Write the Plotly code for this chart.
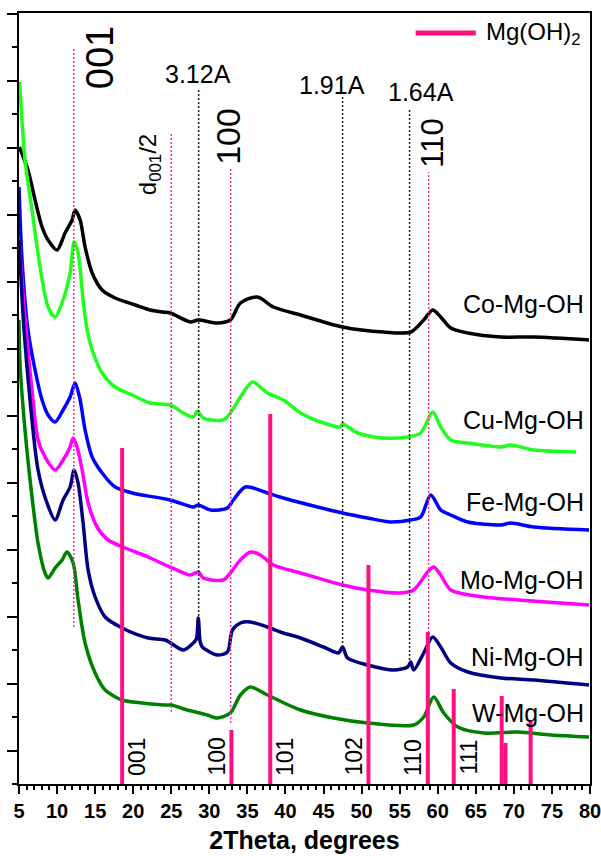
import plotly.graph_objects as go

# ---------------- data (2Theta in degrees, intensity in a.u.) ----------------
co_x = [5.05, 6.18, 7.11, 8.03, 8.82, 10.0, 11.05, 11.97, 12.37, 13.03, 13.68, 14.61, 15.92, 17.63,
        20.26, 22.24, 23.82, 24.87, 27.5, 28.55, 31.05, 32.76, 34.08, 36.32, 38.42, 41.97, 47.5,
        52.89, 56.45, 58.16, 59.34, 60.39, 61.71, 63.95, 68.29, 72.63, 79.87]
co_y = [637, 614, 584, 557, 544, 534, 551, 564, 574, 564, 537, 511, 494, 486,
        479, 474, 472, 471, 462, 464, 461, 464, 481, 487, 477, 469, 457,
        452, 452, 464, 474, 467, 456, 451, 447, 447, 444]

cu_x = [5.05, 5.13, 5.79, 6.71, 7.76, 8.82, 9.74, 10.79, 11.71, 12.24, 12.76, 13.42, 13.95, 14.61,
        15.92, 17.63, 19.87, 22.24, 24.87, 26.58, 27.89, 28.42, 29.21, 31.84, 32.76, 34.08, 35.66,
        37.63, 39.74, 41.97, 45.0, 47.24, 47.5, 49.47, 52.89, 56.05, 57.76, 59.34, 60.39, 61.71,
        63.95, 68.29, 69.61, 72.63, 78.16]
cu_y = [702, 694, 624, 574, 517, 477, 467, 484, 511, 542, 531, 484, 454, 434,
        411, 397, 389, 381, 379, 371, 367, 373, 366, 364, 371, 387, 402,
        391, 384, 371, 361, 357, 360, 351, 346, 347, 351, 372, 357, 344,
        341, 337, 339, 334, 332]

fe_x = [5.0, 5.4, 6.18, 7.11, 8.03, 8.82, 9.74, 10.79, 11.71, 12.37, 13.03, 13.68, 14.61, 15.92,
        17.63, 19.87, 24.87, 27.89, 28.55, 30.13, 32.37, 33.16, 34.74, 37.63, 39.74, 44.21, 47.5,
        50.79, 53.82, 56.45, 57.76, 59.08, 60.39, 61.71, 63.95, 68.29, 69.61, 72.63, 79.87]
fe_y = [597, 524, 454, 414, 384, 369, 362, 374, 387, 401, 384, 354, 327, 311,
        297, 291, 284, 277, 279, 274, 276, 284, 297, 291, 286, 277, 271,
        266, 262, 264, 267, 289, 274, 269, 262, 259, 261, 257, 254]

mo_x = [5.0, 5.92, 6.84, 7.5, 8.42, 9.74, 10.79, 11.71, 12.11, 12.63, 13.29, 14.08, 15.26, 16.71,
        18.95, 21.97, 24.21, 24.87, 27.5, 28.55, 29.21, 31.84, 32.76, 34.08, 35.39, 36.71, 38.42,
        41.97, 47.5, 50.79, 55.13, 56.84, 58.68, 59.47, 60.39, 61.71, 66.05, 70.53, 79.87]
mo_y = [544, 454, 384, 344, 327, 314, 324, 337, 346, 337, 314, 281, 257, 244,
        236, 227, 219, 217, 209, 212, 206, 204, 211, 224, 232, 229, 219,
        211, 199, 194, 191, 194, 212, 217, 209, 194, 187, 184, 179]

ni_x = [5.0, 5.66, 6.45, 7.5, 8.68, 9.74, 10.79, 11.71, 12.24, 12.76, 13.42, 14.08, 15.0, 16.32,
        18.55, 21.97, 24.21, 26.58, 27.89, 28.3, 28.55, 28.8, 29.08, 31.05, 32.37, 33.03, 34.08,
        35.39, 37.63, 39.74, 41.97, 45.0, 46.97, 47.5, 48.16, 50.79, 54.21, 56.05, 56.45, 56.84,
        58.16, 59.34, 60.39, 61.71, 63.95, 68.29, 72.63, 79.87]
ni_y = [544, 454, 384, 314, 281, 264, 284, 297, 314, 301, 261, 214, 187, 167,
        156, 146, 144, 134, 141, 145, 166, 142, 137, 129, 132, 154, 161,
        162, 157, 151, 146, 137, 131, 137, 126, 119, 114, 117, 122, 114,
        131, 147, 137, 121, 112, 106, 104, 99]

w_x = [5.0, 5.13, 5.79, 6.71, 7.5, 8.42, 8.82, 9.74, 10.66, 11.3, 12.11, 12.76, 13.68, 15.0,
       16.32, 18.55, 21.18, 24.21, 25.0, 27.11, 29.74, 31.05, 32.76, 34.08, 35.39, 37.63, 41.97,
       46.32, 50.79, 56.84, 58.16, 59.47, 60.79, 62.63, 66.05, 70.53, 74.87, 79.87]
w_y = [464, 421, 354, 287, 241, 211, 206, 216, 224, 232, 221, 184, 141, 111,
       94, 84, 81, 79, 79, 74, 69, 66, 71, 89, 97, 89, 74,
       66, 61, 59, 67, 87, 71, 57, 51, 52, 49, 47]

sample_names = ["Co-Mg-OH", "Cu-Mg-OH", "Fe-Mg-OH", "Mo-Mg-OH", "Ni-Mg-OH", "W-Mg-OH"]
sample_label_y = [480, 364, 282, 204, 127, 71]

# Mg(OH)2 reference pattern
mgoh_pos = [18.55, 32.9, 38.0, 50.9, 58.7, 62.1, 68.4, 68.9, 72.2]
mgoh_int = [336, 54, 370, 219, 152, 95, 88, 41, 62]
mgoh_hkl = ["001", "100", "101", "102", "110", "111"]
hkl_side = [1, -1, 1, -1, -1, 1]

# marker lines: pink = LDH reflections, black = impurity d-spacings
ldh_x = [12.2, 25.0, 32.8, 58.8]
ldh_top = [736, 652, 617, 612]
ldh_bottom = [157, 72, 61, 151]
imp_x = [28.6, 47.5, 56.3]
imp_top = [695, 687, 676]
imp_bottom = [164, 137, 124]
imp_labels = ["3.12A", "1.91A", "1.64A"]

# ---------------- figure ----------------
FONT = "Liberation Sans, Arial, sans-serif"
PINK = "#FF0F80"
colors = ["#000000", "#1EFF1E", "#0000FF", "#FF00FF", "#000080", "#008000"]
series = [(co_x, co_y), (cu_x, cu_y), (fe_x, fe_y), (mo_x, mo_y), (ni_x, ni_y), (w_x, w_y)]

fig = go.Figure()
for (xs, ys), c, n in zip(series, colors, sample_names):
    fig.add_trace(go.Scatter(x=xs, y=ys, mode="lines", name=n,
                             line=dict(color=c, width=3.5, shape="spline", smoothing=0.8),
                             showlegend=False))


def segs(xs, lo, hi):
    X, Y = [], []
    for x, a, b in zip(xs, lo, hi):
        X += [x, x, None]
        Y += [a, b, None]
    return X, Y


X, Y = segs(ldh_x, ldh_bottom, ldh_top)
fig.add_trace(go.Scatter(x=X, y=Y, mode="lines", showlegend=False,
                         line=dict(color="#FF3399", width=1.5, dash="2px,2px")))
X, Y = segs(imp_x, imp_bottom, imp_top)
fig.add_trace(go.Scatter(x=X, y=Y, mode="lines", showlegend=False,
                         line=dict(color="#222222", width=1.5, dash="2px,2px")))
X, Y = segs(mgoh_pos, [0] * len(mgoh_pos), mgoh_int)
fig.add_trace(go.Scatter(x=X, y=Y, mode="lines", name="Mg(OH)2", showlegend=False,
                         line=dict(color=PINK, width=4)))

ann = []
# sample labels
for n, y in zip(sample_names, sample_label_y):
    ann.append(dict(x=79.5, y=y, text=n, xanchor="right", yanchor="middle", showarrow=False,
                    font=dict(family=FONT, size=25, color="black")))
# hkl labels of Mg(OH)2 bars
for h, p, s in zip(mgoh_hkl, mgoh_pos, hkl_side):
    ann.append(dict(x=p + s * 1.95, y=27, text=h, textangle=-90, showarrow=False,
                    xanchor="center", yanchor="middle",
                    font=dict(family=FONT, size=23, color="black")))
# impurity d-spacing labels
imp_label_x = [28.55, 46.05, 57.83]
imp_label_y = [710, 699, 692]
for t, x, y in zip(imp_labels, imp_label_x, imp_label_y):
    ann.append(dict(x=x, y=y, text=t, showarrow=False, xanchor="center", yanchor="middle",
                    font=dict(family=FONT, size=25, color="black")))
# LDH reflections
ann.append(dict(x=15.66, y=726, text="001", textangle=-90, showarrow=False,
                font=dict(family=FONT, size=38, color="black")))
ann.append(dict(x=32.43, y=648, text="100", textangle=-90, showarrow=False,
                font=dict(family=FONT, size=34, color="black")))
ann.append(dict(x=59.2, y=641, text="110", textangle=-90, showarrow=False,
                font=dict(family=FONT, size=31, color="black")))
ann.append(dict(x=22.1, y=619, text="d<sub>001</sub>/2", textangle=-90, showarrow=False,
                font=dict(family=FONT, size=24, color="black")))
# legend
ann.append(dict(x=66.05, y=751, text="Mg(OH)<sub>2</sub>", xanchor="left", yanchor="middle",
                showarrow=False, font=dict(family=FONT, size=24, color="black")))
shapes = [dict(type="line", xref="x", yref="y", x0=57.1, x1=65.0, y0=751, y1=751,
               line=dict(color=PINK, width=5))]

fig.update_layout(
    width=601, height=856,
    margin=dict(l=19, r=11, t=13, b=72),
    paper_bgcolor="white", plot_bgcolor="white",
    annotations=ann, shapes=shapes, showlegend=False,
    xaxis=dict(range=[5, 80], dtick=5, tick0=5, showgrid=False, zeroline=False,
               automargin=False, ticklabeloverflow="allow",
               showline=True, linecolor="black", linewidth=2, mirror=True,
               ticks="outside", ticklen=8, tickwidth=2, tickcolor="black",
               minor=dict(dtick=1, ticklen=4, tickwidth=1.5, tickcolor="black", ticks="outside"),
               tickfont=dict(family=FONT, size=20, color="black", weight="bold"),
               title=dict(text="2Theta, degrees", standoff=10,
                          font=dict(family=FONT, size=25, color="black", weight="bold"))),
    yaxis=dict(range=[0, 771], tick0=33.5, dtick=67, showgrid=False, zeroline=False,
               automargin=False,
               showline=True, linecolor="black", linewidth=2, mirror=True,
               ticks="outside", ticklen=10, tickwidth=2, tickcolor="black",
               minor=dict(dtick=33.5, tick0=0, ticklen=5, tickwidth=1.5, tickcolor="black",
                          ticks="outside"),
               showticklabels=False),
)

fig.write_html("out.html", config={"displayModeBar": False},
               post_script="document.body.style.margin='0px';")
